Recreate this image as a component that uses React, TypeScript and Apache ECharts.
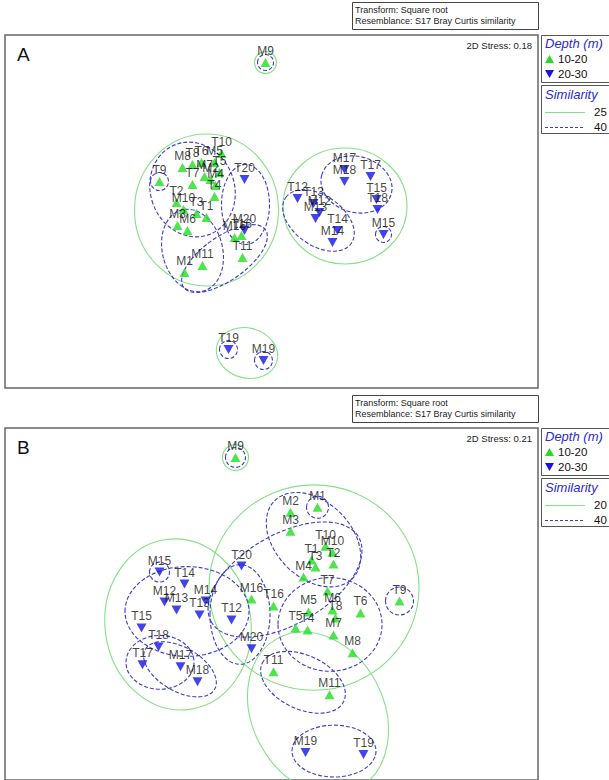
import React, { useEffect, useRef } from "react";
import * as echarts from "echarts";

// ---------- DATA (NMDS coordinates, arbitrary units) ----------
type Pt = [string, number, number];
type Ell = [number, number, number, number, number]; // cx, cy, rx, ry, rotation(deg)

// Panel A
const shallowA: Pt[] = [
  ["M9", -0.06, 1.49], ["T9", -1.12, 0.3], ["M8", -0.89, 0.44], ["T8", -0.79, 0.47],
  ["T6", -0.7, 0.49], ["T10", -0.5, 0.58], ["M5", -0.57, 0.49], ["T5", -0.52, 0.39],
  ["M7", -0.67, 0.35], ["T7", -0.79, 0.27], ["M2", -0.61, 0.32], ["M4", -0.56, 0.26],
  ["T4", -0.57, 0.15], ["T2", -0.95, 0.09], ["M10", -0.88, 0.02], ["T3", -0.75, -0.02],
  ["T1", -0.65, -0.06], ["M3", -0.94, -0.14], ["M6", -0.84, -0.19], ["M16", -0.37, -0.26],
  ["T16", -0.3, -0.24], ["T11", -0.29, -0.46], ["M11", -0.69, -0.54], ["M1", -0.87, -0.61],
];
const deepA: Pt[] = [
  ["T20", -0.27, 0.32], ["M20", -0.27, -0.19], ["T19", -0.43, -1.38], ["M19", -0.08, -1.49],
  ["M17", 0.73, 0.42], ["M18", 0.73, 0.3], ["T17", 0.99, 0.35], ["T15", 1.05, 0.12],
  ["T18", 1.06, 0.02], ["M15", 1.12, -0.23], ["T12", 0.26, 0.13], ["T13", 0.42, 0.08],
  ["M12", 0.48, -0.01], ["M13", 0.44, -0.07], ["T14", 0.66, -0.19], ["M14", 0.61, -0.31],
];
const sim25A: Ell[] = [
  [-0.06, 1.49, 0.11, 0.11, 0],
  [-0.65, 0.015, 0.72, 0.76, 0],
  [0.735, 0.055, 0.62, 0.58, 0],
  [-0.245, -1.415, 0.31, 0.25, -15],
];
const sim40A: Ell[] = [
  [-0.06, 1.49, 0.08, 0.08, 0],
  [-1.12, 0.3, 0.09, 0.09, 0],
  [-0.79, 0.22, 0.42, 0.48, 20],
  [-0.79, -0.39, 0.3, 0.42, 15],
  [-0.47, -0.47, 0.5, 0.22, 35],
  [-0.26, 0.07, 0.24, 0.4, 0],
  [0.47, -0.09, 0.4, 0.25, -35],
  [0.85, 0.27, 0.36, 0.28, -15],
  [1.12, -0.23, 0.08, 0.08, 0],
  [-0.43, -1.38, 0.09, 0.09, 0],
  [-0.08, -1.49, 0.09, 0.09, 0],
];

// Panel B
const shallowB: Pt[] = [
  ["M9", -0.36, 1.47], ["M1", 0.46, 0.97], ["M2", 0.19, 0.92], ["M3", 0.19, 0.73],
  ["T10", 0.54, 0.58], ["M10", 0.61, 0.52], ["T1", 0.4, 0.44], ["T3", 0.44, 0.37],
  ["T2", 0.62, 0.4], ["M4", 0.32, 0.27], ["T7", 0.56, 0.13], ["M6", 0.61, -0.06],
  ["T8", 0.64, -0.14], ["M5", 0.37, -0.08], ["T5", 0.24, -0.24], ["T4", 0.36, -0.26],
  ["M7", 0.62, -0.31], ["M8", 0.81, -0.49], ["T6", 0.89, -0.09], ["T9", 1.28, 0.03],
  ["M16", -0.2, 0.05], ["T16", 0.02, -0.02], ["T11", 0.02, -0.68], ["M11", 0.58, -0.91],
];
const deepB: Pt[] = [
  ["T20", -0.3, 0.38], ["M20", -0.2, -0.45], ["T12", -0.4, -0.16], ["M19", 0.34, -1.49],
  ["T19", 0.92, -1.51], ["T14", -0.87, 0.2], ["M12", -1.07, 0.02], ["M14", -0.66, 0.03],
  ["M13", -0.95, -0.06], ["T13", -0.72, -0.11], ["T15", -1.3, -0.24], ["T18", -1.13, -0.43],
  ["T17", -1.29, -0.61], ["M17", -0.91, -0.63], ["M18", -0.74, -0.78], ["M15", -1.12, 0.32],
];
const sim20B: Ell[] = [
  [-0.36, 1.47, 0.13, 0.13, 0],
  [-0.935, -0.205, 0.73, 0.86, 8],
  [0.425, 0.165, 1.05, 1.03, 0],
  [0.465, -1.095, 0.85, 0.66, -62],
];
const sim40B: Ell[] = [
  [-0.36, 1.47, 0.1, 0.1, 0],
  [0.46, 0.97, 0.11, 0.11, 0],
  [1.28, 0.03, 0.14, 0.14, 0],
  [-1.12, 0.32, 0.1, 0.1, 0],
  [0.42, 0.645, 0.55, 0.38, -45],
  [0.135, 0.245, 0.85, 0.45, 30],
  [0.585, -0.205, 0.52, 0.47, 0],
  [0.315, -0.785, 0.45, 0.27, -25],
  [0.625, -1.475, 0.42, 0.26, 0],
  [-0.845, -0.075, 0.62, 0.45, 0],
  [-1.115, -0.585, 0.34, 0.27, 0],
  [-0.915, -0.655, 0.4, 0.22, -30],
  [-0.315, -0.105, 0.3, 0.5, 0],
];

const depthLevels = ["10-20", "20-30"];
const stressA = "0.18";
const stressB = "0.21";
const simLevelsA = ["25", "40"];
const simLevelsB = ["20", "40"];

// ---------- STYLE ----------
const GREEN = "#22dd22";
const BLUE = "#1414e6";
const GREEN_LINE = "#86e086";
const BLUE_LINE = "#3c3cc8";
const FONT = '"Liberation Sans", Arial, sans-serif';

const X_RANGE = { min: -2.665, max: 2.665 };
const Y_RANGE = { min: -1.765, max: 1.765 };

function ellipseSeries(data: Ell[], gridIdx: number, color: string, dashed: boolean) {
  return {
    type: "custom",
    xAxisIndex: gridIdx,
    yAxisIndex: gridIdx,
    silent: true,
    clip: true,
    z: 2,
    data,
    renderItem: (_params: any, api: any) => {
      const c = api.coord([api.value(0), api.value(1)]);
      const s = api.size([api.value(2), api.value(3)]);
      return {
        type: "ellipse",
        x: c[0],
        y: c[1],
        rotation: (api.value(4) * Math.PI) / 180,
        shape: { cx: 0, cy: 0, rx: s[0], ry: s[1] },
        style: {
          fill: "none",
          stroke: color,
          lineWidth: 1.1,
          lineDash: dashed ? [4, 2] : null,
        },
      };
    },
  };
}

function pointSeries(data: Pt[], gridIdx: number, name: string, color: string, down: boolean) {
  return {
    type: "scatter",
    name,
    xAxisIndex: gridIdx,
    yAxisIndex: gridIdx,
    symbol: "triangle",
    symbolSize: [10, 9],
    symbolRotate: down ? 180 : 0,
    z: 5,
    itemStyle: { color },
    label: {
      show: true,
      position: "top",
      distance: 1,
      formatter: (p: any) => p.data[2],
      color: "#111",
      fontSize: 12,
      fontFamily: FONT,
    },
    labelLayout: { hideOverlap: false },
    data: data.map((d) => [d[1], d[2], d[0]]),
  };
}

function panelGraphics(top: number, letter: string, stress: string, sim: string[]) {
  const legendX = 541;
  return [
    // header box
    {
      type: "rect",
      shape: { x: 352.5, y: top - 32.5, width: 186, height: 27 },
      style: { fill: "#fff", stroke: "#444", lineWidth: 1 },
    },
    {
      type: "text",
      x: 355,
      y: top - 30,
      style: { text: "Transform: Square root", font: `9px ${FONT}`, fill: "#222" },
    },
    {
      type: "text",
      x: 355,
      y: top - 19,
      style: { text: "Resemblance: S17 Bray Curtis similarity", font: `9px ${FONT}`, fill: "#222" },
    },
    // panel letter
    {
      type: "text",
      x: 17,
      y: top + 10,
      style: { text: letter, font: `19px ${FONT}`, fill: "#111" },
    },
    {
      type: "text",
      x: 532,
      y: top + 5,
      style: { text: `2D Stress: ${stress}`, font: `9.5px ${FONT}`, fill: "#222", align: "right" },
    },
    // depth legend
    {
      type: "rect",
      shape: { x: legendX + 0.5, y: top + 0.5, width: 80, height: 47 },
      style: { fill: "#fff", stroke: "#555", lineWidth: 1 },
    },
    {
      type: "text",
      x: legendX + 4,
      y: top + 2,
      style: { text: "Depth (m)", font: `italic 13px ${FONT}`, fill: "#2a2ad0" },
    },
    {
      type: "polygon",
      shape: { points: [[legendX + 4, top + 28], [legendX + 13, top + 28], [legendX + 8.5, top + 20]] },
      style: { fill: GREEN },
    },
    {
      type: "text",
      x: legendX + 17,
      y: top + 18,
      style: { text: depthLevels[0], font: `11.5px ${FONT}`, fill: "#111" },
    },
    {
      type: "polygon",
      shape: { points: [[legendX + 4, top + 35], [legendX + 13, top + 35], [legendX + 8.5, top + 43]] },
      style: { fill: BLUE },
    },
    {
      type: "text",
      x: legendX + 17,
      y: top + 33,
      style: { text: depthLevels[1], font: `11.5px ${FONT}`, fill: "#111" },
    },
    // similarity legend
    {
      type: "rect",
      shape: { x: legendX + 0.5, y: top + 50.5, width: 80, height: 48 },
      style: { fill: "#fff", stroke: "#555", lineWidth: 1 },
    },
    {
      type: "text",
      x: legendX + 4,
      y: top + 53,
      style: { text: "Similarity", font: `italic 13px ${FONT}`, fill: "#2a2ad0" },
    },
    {
      type: "line",
      shape: { x1: legendX + 4, y1: top + 77.5, x2: legendX + 44, y2: top + 77.5 },
      style: { stroke: GREEN_LINE, lineWidth: 1 },
    },
    {
      type: "text",
      x: legendX + 53,
      y: top + 71,
      style: { text: sim[0], font: `11.5px ${FONT}`, fill: "#111" },
    },
    {
      type: "line",
      shape: { x1: legendX + 4, y1: top + 92.5, x2: legendX + 44, y2: top + 92.5 },
      style: { stroke: BLUE_LINE, lineWidth: 1, lineDash: [3, 2] },
    },
    {
      type: "text",
      x: legendX + 53,
      y: top + 86,
      style: { text: sim[1], font: `11.5px ${FONT}`, fill: "#111" },
    },
  ];
}

export default function App() {
  const ref = useRef<HTMLDivElement>(null);
  useEffect(() => {
    if (!ref.current) return;
    const chart = echarts.init(ref.current, null, { renderer: "svg" });
    const axisCommon = { type: "value", show: false, splitLine: { show: false } };
    const grids = [
      { left: 5, top: 35, width: 533, height: 353, show: true, borderColor: "#666", borderWidth: 1.5, backgroundColor: "#fff" },
      { left: 5, top: 428, width: 533, height: 353, show: true, borderColor: "#666", borderWidth: 1.5, backgroundColor: "#fff" },
    ];
    chart.setOption({
      animation: false,
      backgroundColor: "#fff",
      grid: grids,
      xAxis: [
        { ...axisCommon, gridIndex: 0, ...X_RANGE },
        { ...axisCommon, gridIndex: 1, ...X_RANGE },
      ],
      yAxis: [
        { ...axisCommon, gridIndex: 0, ...Y_RANGE },
        { ...axisCommon, gridIndex: 1, ...Y_RANGE },
      ],
      series: [
        ellipseSeries(sim25A, 0, GREEN_LINE, false),
        ellipseSeries(sim40A, 0, BLUE_LINE, true),
        pointSeries(shallowA, 0, depthLevels[0], GREEN, false),
        pointSeries(deepA, 0, depthLevels[1], BLUE, true),
        ellipseSeries(sim20B, 1, GREEN_LINE, false),
        ellipseSeries(sim40B, 1, BLUE_LINE, true),
        pointSeries(shallowB, 1, depthLevels[0], GREEN, false),
        pointSeries(deepB, 1, depthLevels[1], BLUE, true),
      ],
      graphic: [...panelGraphics(35, "A", stressA, simLevelsA), ...panelGraphics(428, "B", stressB, simLevelsB)],
    });
    return () => chart.dispose();
  }, []);
  return (
    <div
      ref={ref}
      style={{ position: "absolute", left: 0, top: 0, width: 609, height: 780, background: "#fff" }}
    />
  );
}
